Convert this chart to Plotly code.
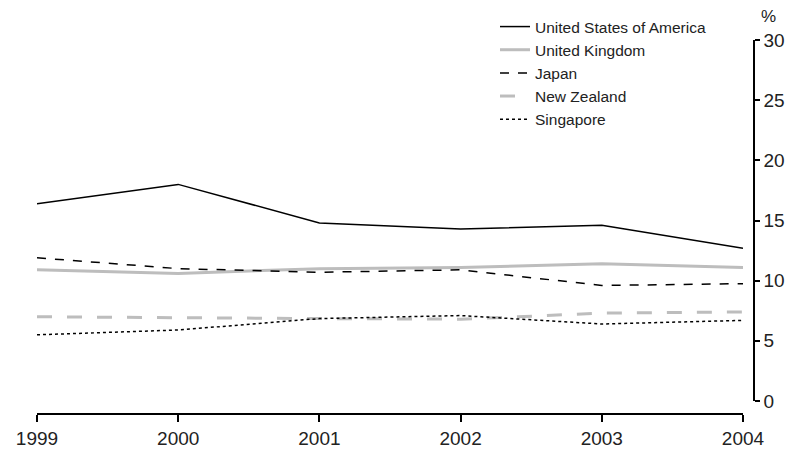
import plotly.graph_objects as go

years = [1999, 2000, 2001, 2002, 2003, 2004]
usa = [16.4, 18.0, 14.8, 14.3, 14.6, 12.7]
uk = [10.9, 10.6, 11.0, 11.1, 11.4, 11.1]
japan = [11.9, 11.0, 10.7, 10.9, 9.6, 9.75]
nz = [7.0, 6.9, 6.85, 6.8, 7.3, 7.4]
singapore = [5.5, 5.9, 6.85, 7.1, 6.4, 6.7]

series = [
    ("United States of America", usa, dict(color="black", width=1.5, dash="solid")),
    ("United Kingdom", uk, dict(color="#bdbdbd", width=3, dash="solid")),
    ("Japan", japan, dict(color="black", width=1.5, dash="dash")),
    ("New Zealand", nz, dict(color="#bdbdbd", width=3, dash="longdash")),
    ("Singapore", singapore, dict(color="black", width=1.5, dash="dot")),
]

fig = go.Figure()
for name, vals, line in series:
    fig.add_trace(go.Scatter(x=years, y=vals, name=name, mode="lines", line=line))

W, H = 794, 450
ml, mr, mt, mb = 37, 40, 40, 36
pw = W - ml - mr
ph = H - mt - mb

fig.update_layout(
    width=W, height=H,
    margin=dict(l=ml, r=mr, t=mt, b=mb, autoexpand=False),
    paper_bgcolor="white", plot_bgcolor="white",
    font=dict(family="Liberation Sans, Arial, sans-serif", color="#222222"),
    showlegend=True,
    legend=dict(
        x=(500 - ml - 5) / pw, y=1 + (mt - 10) / ph, xanchor="left", yanchor="top",
        font=dict(size=15.5, color="#222222"), bgcolor="rgba(0,0,0,0)",
        tracegroupgap=0, itemwidth=30,
    ),
    xaxis=dict(
        domain=[0, (743 - ml) / pw], range=[1999, 2004],
        tickmode="array", tickvals=years, ticktext=[str(y) for y in years],
        showgrid=False, zeroline=False, showline=True, linecolor="black", linewidth=1.5,
        ticks="outside", ticklen=7, tickwidth=1.5, tickcolor="black",
        tickfont=dict(size=19, color="#222222"),
        anchor="free", position=0, automargin=False,
    ),
    yaxis=dict(
        domain=[(414 - 401) / ph, 1], range=[0, 30],
        tickvals=[0, 5, 10, 15, 20, 25, 30],
        side="right", anchor="free", position=1, automargin=False,
        showgrid=False, zeroline=False, showline=True, linecolor="black", linewidth=1.5,
        ticks="outside", ticklen=5, tickwidth=1.5, tickcolor="black",
        tickfont=dict(size=19, color="#222222"),
    ),
    annotations=[dict(
        text="%", xref="paper", yref="paper", x=(768 - ml) / pw, y=1 + (mt - 17) / ph,
        xanchor="center", yanchor="middle", showarrow=False,
        font=dict(size=17, color="#222222"),
    )],
)

fig.write_html(
    "out.html",
    config={"displayModeBar": False},
    post_script="document.body.style.margin='0';document.body.style.padding='0';",
)
